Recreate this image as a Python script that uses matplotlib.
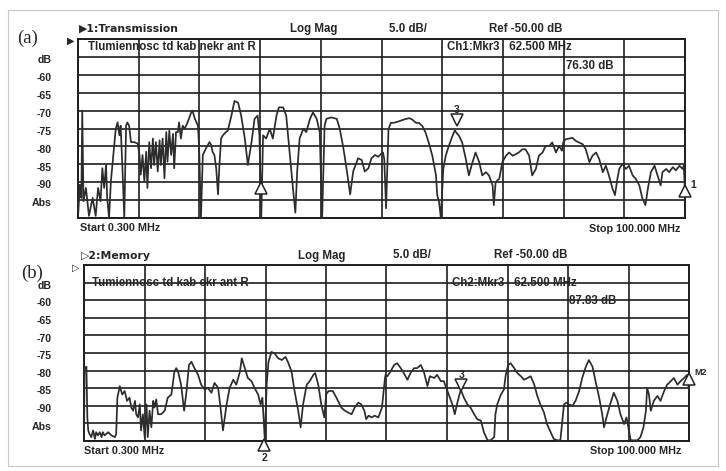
import numpy as np
import matplotlib
matplotlib.use('Agg')
import matplotlib.pyplot as plt
from matplotlib.transforms import blended_transform_factory, offset_copy
from matplotlib.patches import Rectangle

plt.rcParams['font.family'] = ['Liberation Sans', 'DejaVu Sans']

# trace (a): transmission, (MHz, dB)
trace_a = np.array([
    (0.3, -100), (0.6, -90.7), (0.85, -94.4), (1.0, -70), (1.2, -95.3), (1.6, -91.6), (2.1, -99.4),
    (2.7, -94.4), (3.2, -99.4), (3.6, -91.6), (4.0, -95.3), (4.3, -86.1), (4.6, -91.6), (4.9, -85.2),
    (5.1, -94.4), (5.4, -100), (5.7, -89.8), (6.1, -82.4), (6.5, -75.1), (6.8, -73.3), (7.1, -76.9),
    (7.3, -74.2), (7.6, -86.1), (7.9, -100), (8.2, -74.2), (8.4, -73.3), (8.7, -74.2), (9.0, -78.8),
    (9.5, -78.8), (10.1, -79.2), (10.4, -82.4), (10.6, -87.9), (10.9, -82.4), (11.2, -89.8),
    (11.5, -81.5), (11.7, -91.6), (12.0, -78.8), (12.3, -86.1), (12.6, -77.8), (12.8, -85.2),
    (13.1, -78.8), (13.4, -87.0), (13.7, -78.3), (13.9, -85.2), (14.2, -77.8), (14.5, -88.9),
    (14.8, -76.0), (15.0, -84.3), (15.3, -75.6), (15.6, -82.4), (15.9, -76.5), (16.1, -86.1),
    (16.4, -76.0), (16.7, -76.0), (16.9, -73.3), (17.2, -77.8), (17.5, -74.2), (17.8, -75.1),
    (18.3, -73.3), (18.9, -70.5), (19.1, -70.0), (19.5, -72.3), (20.0, -74.2), (20.2, -80.6),
    (20.5, -100), (20.8, -82.4), (21.3, -80.6), (21.9, -78.8), (22.2, -79.7), (22.4, -81.5),
    (22.7, -82.4), (23.0, -86.1), (23.3, -93.4), (23.5, -86.1), (23.8, -77.8), (24.1, -76.9),
    (24.6, -76.0), (24.9, -75.6), (25.5, -71.4), (26.0, -67.3), (26.6, -67.8), (27.1, -71.4),
    (27.7, -77.8), (28.2, -85.2), (28.8, -78.8), (29.3, -72.3), (29.8, -71.4), (30.1, -76.9),
    (30.4, -100), (30.7, -76.9), (31.2, -77.8), (31.8, -75.1), (32.3, -77.8), (32.9, -71.4),
    (33.3, -69.1), (34.0, -69.1), (34.5, -71.4), (35.1, -82.4), (35.6, -91.6), (36.0, -98.5),
    (36.3, -87.0), (36.7, -77.8), (37.3, -75.1), (37.8, -76.0), (38.4, -72.3), (38.9, -70.5),
    (39.5, -72.3), (40.0, -76.0), (40.4, -100), (40.8, -74.2), (41.1, -72.3), (41.9, -71.9),
    (42.8, -72.3), (43.3, -75.1), (43.9, -80.6), (44.4, -86.1), (45.0, -93.4), (45.5, -87.0),
    (46.3, -83.3), (46.9, -83.8), (47.4, -87.0), (48.0, -86.1), (48.5, -83.3), (49.1, -82.4),
    (49.6, -82.9), (50.2, -81.9), (50.4, -81.7), (50.6, -83.5), (50.9, -97.3), (51.3, -75.1),
    (51.7, -73.4), (52.2, -73.4), (53.0, -73.0), (53.8, -72.5), (54.7, -72.1), (55.2, -72.5),
    (55.8, -73.4), (56.3, -73.4), (56.9, -74.4), (57.4, -76.2), (57.9, -78.9), (58.5, -82.6),
    (59.1, -88.1), (59.3, -93.6), (59.6, -95.5), (59.9, -100), (60.3, -86.3), (60.7, -82.6),
    (61.2, -79.9), (61.8, -77.1), (62.2, -75.5), (62.5, -76.3), (62.9, -77.1), (63.4, -78.9),
    (64.0, -83.5), (64.5, -88.1), (65.1, -84.4), (65.6, -81.7), (66.2, -84.4), (66.7, -88.1),
    (67.3, -87.2), (67.8, -88.1), (68.4, -90.9), (68.6, -96.4), (68.9, -90.0), (69.5, -89.0),
    (70.0, -84.4), (70.6, -82.6), (71.1, -81.7), (71.7, -82.6), (72.2, -82.2), (72.7, -81.7),
    (73.3, -80.8), (73.8, -80.8), (74.4, -82.6), (74.9, -88.1), (75.5, -86.3), (76.0, -82.6),
    (76.6, -81.7), (77.1, -79.9), (77.7, -79.9), (78.2, -78.9), (78.8, -81.7), (79.3, -79.9),
    (79.8, -81.2), (80.0, -78.9), (80.4, -78.0), (81.0, -77.8), (81.5, -77.6), (82.1, -78.5),
    (82.6, -78.9), (83.2, -79.4), (83.7, -80.8), (84.3, -84.4), (84.8, -82.6), (85.4, -81.7),
    (85.9, -83.5), (86.5, -87.2), (87.0, -85.4), (87.5, -88.1), (88.1, -91.8), (88.5, -93.6),
    (88.9, -89.0), (89.2, -86.3), (89.7, -84.9), (90.3, -86.3), (90.8, -85.4), (91.4, -88.1),
    (91.9, -89.0), (92.5, -90.9), (93.0, -94.5), (93.5, -96.4), (93.9, -91.8), (94.4, -87.2),
    (95.0, -85.4), (95.5, -88.1), (96.0, -90.9), (96.3, -87.2), (96.9, -86.3), (97.4, -87.2),
    (98.0, -85.8), (98.5, -86.7), (99.1, -85.4), (99.6, -86.3), (99.8, -85.4), (100.0, -93.0),
])

# trace (b): memory
trace_b = np.array([
    (0.3, -99.8), (0.4, -79.3), (0.7, -78.9), (0.85, -93.3), (1.0, -97.0), (1.2, -98.0), (1.5, -98.9),
    (1.8, -97.0), (2.1, -99.4), (2.3, -97.5), (2.6, -98.4), (2.9, -97.5), (3.2, -98.9), (3.4, -97.5),
    (3.7, -98.4), (4.3, -97.5), (4.8, -98.4), (5.4, -98.9), (5.6, -98.0), (5.8, -87.7), (6.2, -84.4),
    (6.6, -86.8), (7.0, -85.8), (7.4, -88.6), (7.8, -87.7), (8.1, -90.5), (8.4, -91.4), (8.7, -88.6),
    (8.9, -92.4), (9.2, -93.3), (9.5, -89.6), (9.7, -97.0), (10.0, -92.4), (10.3, -98.9),
    (10.6, -89.6), (10.8, -98.9), (11.1, -91.4), (11.4, -96.1), (11.7, -88.6), (11.9, -90.5),
    (12.2, -88.2), (12.5, -92.4), (13.0, -92.4), (13.6, -91.4), (14.1, -87.7), (14.7, -86.8),
    (15.2, -80.3), (15.5, -79.3), (15.8, -80.3), (16.3, -84.0), (16.8, -91.4), (17.2, -85.8),
    (17.6, -78.4), (18.0, -77.5), (18.5, -79.3), (19.1, -81.2), (19.6, -84.0), (20.2, -85.4),
    (20.7, -84.9), (21.3, -86.3), (21.8, -83.5), (22.4, -84.9), (22.8, -90.5), (23.2, -97.0),
    (23.8, -89.6), (24.3, -84.9), (24.9, -82.6), (25.4, -84.0), (26.0, -80.3), (26.3, -76.5),
    (26.8, -79.3), (27.3, -82.1), (27.9, -83.0), (28.4, -84.9), (29.0, -86.8), (29.4, -89.6),
    (29.7, -87.7), (30.1, -99.8), (30.4, -84.0), (30.7, -77.5), (31.2, -74.7), (31.7, -75.1),
    (32.3, -76.5), (32.9, -77.0), (33.5, -76.1), (33.9, -77.5), (34.5, -80.3), (35.0, -85.8),
    (35.6, -91.4), (36.0, -96.1), (36.4, -89.6), (37.0, -84.0), (37.5, -83.0), (38.1, -81.2),
    (38.4, -80.7), (38.9, -84.0), (39.4, -89.6), (39.9, -93.3), (40.2, -86.8), (40.6, -85.8),
    (41.3, -85.8), (41.9, -87.7), (42.7, -90.5), (43.3, -91.4), (43.8, -91.9), (44.4, -92.4),
    (44.9, -90.5), (45.5, -89.1), (46.0, -89.6), (46.5, -91.4), (46.8, -93.8), (47.2, -92.8),
    (47.7, -93.3), (48.2, -92.8), (48.8, -93.3), (49.0, -92.4), (49.4, -90.5), (49.9, -82.1),
    (50.0, -81.2), (50.3, -81.6), (50.8, -80.3), (51.4, -78.4), (51.9, -77.9), (52.5, -79.3),
    (53.0, -80.7), (53.6, -82.6), (54.1, -80.7), (54.7, -79.3), (55.2, -79.3), (55.8, -78.4),
    (56.3, -80.3), (56.9, -84.4), (57.3, -81.6), (58.0, -82.1), (58.5, -81.2), (59.1, -83.0),
    (59.6, -83.0), (59.9, -84.4), (60.4, -86.8), (61.0, -89.6), (61.4, -92.4), (61.9, -88.6),
    (62.4, -85.4), (62.9, -87.7), (63.5, -89.6), (64.0, -90.5), (64.6, -92.4), (65.1, -93.8),
    (65.7, -94.2), (66.2, -97.5), (66.8, -99.8), (67.3, -99.8), (67.9, -98.9), (68.1, -92.4),
    (68.4, -89.6), (69.0, -86.8), (69.5, -85.4), (69.8, -81.2), (70.2, -78.4), (70.6, -77.9),
    (71.2, -79.3), (71.7, -80.7), (72.3, -81.6), (72.8, -82.6), (73.4, -82.1), (73.9, -81.6),
    (74.5, -84.0), (75.0, -87.2), (75.5, -89.6), (76.1, -91.9), (76.6, -95.2), (77.2, -97.5),
    (77.7, -99.4), (78.3, -99.8), (78.8, -99.8), (79.4, -89.6), (79.8, -89.1), (80.2, -89.6),
    (80.8, -90.0), (81.3, -88.6), (81.9, -85.8), (82.4, -82.1), (83.0, -78.9), (83.5, -77.0),
    (84.1, -78.9), (84.6, -83.0), (85.2, -87.7), (85.7, -92.4), (86.0, -96.1), (86.4, -93.3),
    (87.0, -89.6), (87.6, -86.3), (88.2, -88.6), (88.7, -92.4), (89.3, -95.2), (89.7, -93.3),
    (90.1, -97.0), (90.4, -99.8), (90.9, -99.8), (91.5, -99.8), (92.0, -98.9), (92.5, -96.1),
    (92.9, -91.4), (93.1, -84.9), (93.4, -86.8), (93.7, -91.4), (94.2, -88.6), (94.8, -87.2),
    (95.3, -88.6), (95.9, -85.8), (96.4, -84.0), (97.0, -83.0), (97.5, -82.1), (98.1, -84.0),
    (98.6, -83.0), (99.2, -82.1), (99.7, -81.2), (100.0, -85.8),
])

freq_a, mag_a = trace_a.T
freq_b, mag_b = trace_b.T

f_start, f_stop = 0.3, 100.0
ref_db, db_div = -50.0, 5.0
ylab_vals = [-55, -60, -65, -70, -75, -80, -85, -90, -95]
ylab_text = ['dB', '-60', '-65', '-70', '-75', '-80', '-85', '-90', 'Abs']

# markers: (MHz, dB, label, symbol)
mkr_a = [(62.5, -72.5, '3', 'v'), (30.3, -91.5, '', '^'), (100.0, -92.5, '1', '^')]
mkr_b = [(62.5, -84.2, '3', 'v'), (30.0, -101.0, '2', '^'), (100.0, -82.4, 'M2', '^')]

W, H = 726, 471
fig = plt.figure(figsize=(W / 100, H / 100), dpi=100)
TXT = '#262626'
LINE = '#1e1e1e'


def ftxt(x, y, s, **kw):
    # place text by pixel position of the screenshot
    kw.setdefault('fontsize', 8.3)
    kw.setdefault('weight', 'bold')
    kw.setdefault('color', TXT)
    kw.setdefault('va', 'center')
    fig.text(x / W, 1 - y / H, s, **kw)


def panel(left, top, right, bottom, freq, mag, markers):
    ax = fig.add_axes([left / W, 1 - bottom / H, (right - left) / W, (bottom - top) / H])
    ax.plot(freq, mag, color='#2c2c2c', lw=1.25, zorder=3)
    ax.set_xlim(f_start, f_stop)
    ax.set_ylim(ref_db - 10 * db_div, ref_db)
    ax.set_xticks(np.linspace(f_start, f_stop, 11))
    ax.set_yticks(np.arange(ref_db - 10 * db_div, ref_db + 1, db_div))
    ax.grid(True, color=LINE, lw=1.2)
    ax.tick_params(length=0, labelbottom=False, labelleft=False)
    for s in ax.spines.values():
        s.set_color(LINE)
        s.set_linewidth(1.4)
    tr = blended_transform_factory(fig.transFigure, ax.transData)
    for v, t in zip(ylab_vals, ylab_text):
        ax.text(52 / W, v - 0.9, t, transform=tr, ha='right', va='center',
                fontsize=7.6, weight='bold', color=TXT)
    for f, v, lab, sym in markers:
        ax.plot(f, v, marker=sym, ms=8, mfc='white', mec='#222222', mew=1.1,
                clip_on=False, zorder=5)
        if lab == 'M2':
            ax.text(f, v, lab, transform=offset_copy(ax.transData, fig, x=5, y=7, units='dots'),
                    fontsize=6.5, weight='bold', color=TXT, ha='left', va='center')
        elif lab == '1':
            ax.text(f, v, lab, transform=offset_copy(ax.transData, fig, x=5, y=6, units='dots'),
                    fontsize=7.5, weight='bold', color=TXT, ha='left', va='center')
        elif lab == '2':
            ax.text(f, v, lab, transform=offset_copy(ax.transData, fig, x=0, y=-13, units='dots'),
                    fontsize=7.5, weight='bold', color=TXT, ha='center', va='center')
        elif lab:
            ax.text(f, v, lab, transform=offset_copy(ax.transData, fig, x=0, y=10, units='dots'),
                    fontsize=7.5, weight='bold', color=TXT, ha='center', va='center')
    return ax


# light frame of the scanned page
fig.patches.append(Rectangle((8 / W, 5 / H), 710 / W, 456 / H, transform=fig.transFigure,
                             fill=False, ec='#c8c8c8', lw=0.8))

# ---- panel (a)
panel(78, 39, 685, 218, freq_a, mag_a, mkr_a)
ftxt(17, 38, '(a)', family='Liberation Serif', weight='normal', fontsize=13.5)
ftxt(79, 29, '\u25b61:Transmission', family=['DejaVu Sans'], fontsize=7.8)
ftxt(290, 29, 'Log Mag')
ftxt(389, 29, '5.0 dB/')
ftxt(489, 29, 'Ref -50.00 dB')
ftxt(67, 41, '\u25b6', family=['DejaVu Sans'], fontsize=7, weight='normal')
ftxt(88, 47, 'Tlumiennosc td kab nekr ant R')
ftxt(447, 47, 'Ch1:Mkr3   62.500 MHz')
ftxt(566, 66, '76.30 dB')
ftxt(80, 228, 'Start 0.300 MHz', fontsize=7.8)
ftxt(680, 229, 'Stop 100.000 MHz', ha='right', fontsize=7.8)

# ---- panel (b)
panel(84, 265, 689, 441, freq_b, mag_b, mkr_b)
ftxt(21, 273, '(b)', family='Liberation Serif', weight='normal', fontsize=13.5)
ftxt(81, 256, '\u25b72:Memory', family=['DejaVu Sans'], fontsize=7.8)
ftxt(298, 256, 'Log Mag')
ftxt(393, 255, '5.0 dB/')
ftxt(494, 255, 'Ref -50.00 dB')
ftxt(72, 268, '\u25b7', family=['DejaVu Sans'], fontsize=7, weight='normal')
ftxt(92, 283, 'Tumiennosc td kab ekr ant R')
ftxt(452, 283, 'Ch2:Mkr3   62.500 MHz')
ftxt(569, 301, '87.83 dB')
ftxt(84, 451, 'Start 0.300 MHz', fontsize=7.8)
ftxt(681, 451, 'Stop 100.000 MHz', ha='right', fontsize=7.8)

fig.savefig('out.png', dpi=100, facecolor='white')
